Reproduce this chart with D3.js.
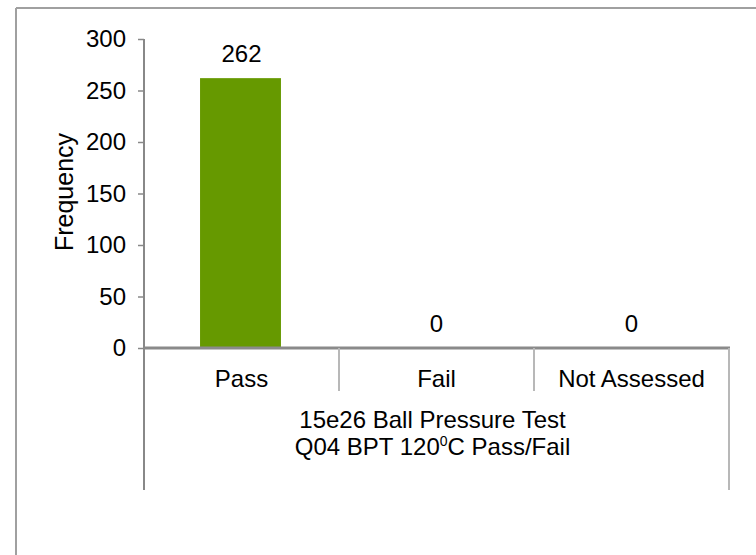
<!DOCTYPE html>
<html><head><meta charset="utf-8">
<script src="https://cdn.jsdelivr.net/npm/d3@7"></script>
<style>
html,body{margin:0;padding:0;background:#fff;}
svg{display:block;font-family:"Liberation Sans",Arial,sans-serif;}
</style></head>
<body>
<script>
const categories = ["Pass", "Fail", "Not Assessed"];
const values = [262, 0, 0];
const yTicks = [0, 50, 100, 150, 200, 250, 300];
const groupLabel = ["15e26 Ball Pressure Test", "Q04 BPT 120", "C Pass/Fail"];
const yTitle = "Frequency";

const W = 756, H = 555;
const FS = 24;
const svg = d3.select("body").append("svg").attr("width", W).attr("height", H);

// outer frame (top and left)
svg.append("line").attr("x1", 16).attr("x2", W).attr("y1", 8).attr("y2", 8)
  .attr("stroke", "#a0a0a0").attr("stroke-width", 2);
svg.append("line").attr("x1", 16).attr("x2", 16).attr("y1", 8).attr("y2", H)
  .attr("stroke", "#a0a0a0").attr("stroke-width", 2);

const x0 = 144, x1 = 729, y0 = 348, yTop = 39;
const x = d3.scaleBand().domain(categories).range([x0, x1]).paddingInner(0).paddingOuter(0);
const y = d3.scaleLinear().domain([0, 300]).range([y0, yTop]);

// bars
const bw = x.bandwidth() * 0.415;
svg.selectAll("rect.bar").data(categories).enter().append("rect")
  .attr("x", d => x(d) + (x.bandwidth() - bw) / 2 - 1)
  .attr("width", bw)
  .attr("y", (d, i) => y(values[i]))
  .attr("height", (d, i) => y(0) - y(values[i]))
  .attr("fill", "#669900");

// value labels
svg.selectAll("text.val").data(categories).enter().append("text")
  .attr("x", d => x(d) + x.bandwidth() / 2)
  .attr("y", (d, i) => y(values[i]) - 16)
  .attr("text-anchor", "middle").attr("font-size", FS).attr("fill", "#000")
  .text((d, i) => values[i]);

// y axis
const yAxis = d3.axisLeft(y).tickValues(yTicks).tickSize(6).tickPadding(12);
const ga = svg.append("g").attr("transform", `translate(${x0},0)`).call(yAxis);
ga.select(".domain").remove();
ga.selectAll(".tick line").attr("stroke", "#888").attr("stroke-width", 1.5);
ga.selectAll(".tick text").attr("font-size", FS).attr("fill", "#000")
  .attr("font-family", "Liberation Sans, Arial, sans-serif");
svg.append("line").attr("x1", x0).attr("x2", x0).attr("y1", yTop).attr("y2", 490)
  .attr("stroke", "#888").attr("stroke-width", 2);

// x axis line
svg.append("line").attr("x1", x0).attr("x2", x1 + 1).attr("y1", y0).attr("y2", y0)
  .attr("stroke", "#8a8a8a").attr("stroke-width", 3);

// category dividers
const bounds = categories.slice(1).map(d => x(d));
svg.selectAll("line.div").data(bounds).enter().append("line")
  .attr("x1", d => d).attr("x2", d => d).attr("y1", y0).attr("y2", 391)
  .attr("stroke", "#b8b8b8").attr("stroke-width", 2);
svg.append("line").attr("x1", x1).attr("x2", x1).attr("y1", y0).attr("y2", 490)
  .attr("stroke", "#b8b8b8").attr("stroke-width", 2);

// category labels
svg.selectAll("text.cat").data(categories).enter().append("text")
  .attr("x", d => x(d) + x.bandwidth() / 2).attr("y", 387)
  .attr("text-anchor", "middle").attr("font-size", FS).attr("fill", "#000")
  .text(d => d);

// group label
const cx = (x0 + x1) / 2 - 4;
svg.append("text").attr("x", cx).attr("y", 428).attr("text-anchor", "middle")
  .attr("font-size", FS).text(groupLabel[0]);
const t2 = svg.append("text").attr("x", cx).attr("y", 455).attr("text-anchor", "middle")
  .attr("font-size", FS);
t2.append("tspan").text(groupLabel[1]);
t2.append("tspan").attr("dy", -9).attr("font-size", 14).text("0");
t2.append("tspan").attr("dy", 9).text(groupLabel[2]);

// y title
svg.append("text").attr("transform", `translate(73,192) rotate(-90)`)
  .attr("text-anchor", "middle").attr("font-size", 25).text(yTitle);
</script>
</body></html>
